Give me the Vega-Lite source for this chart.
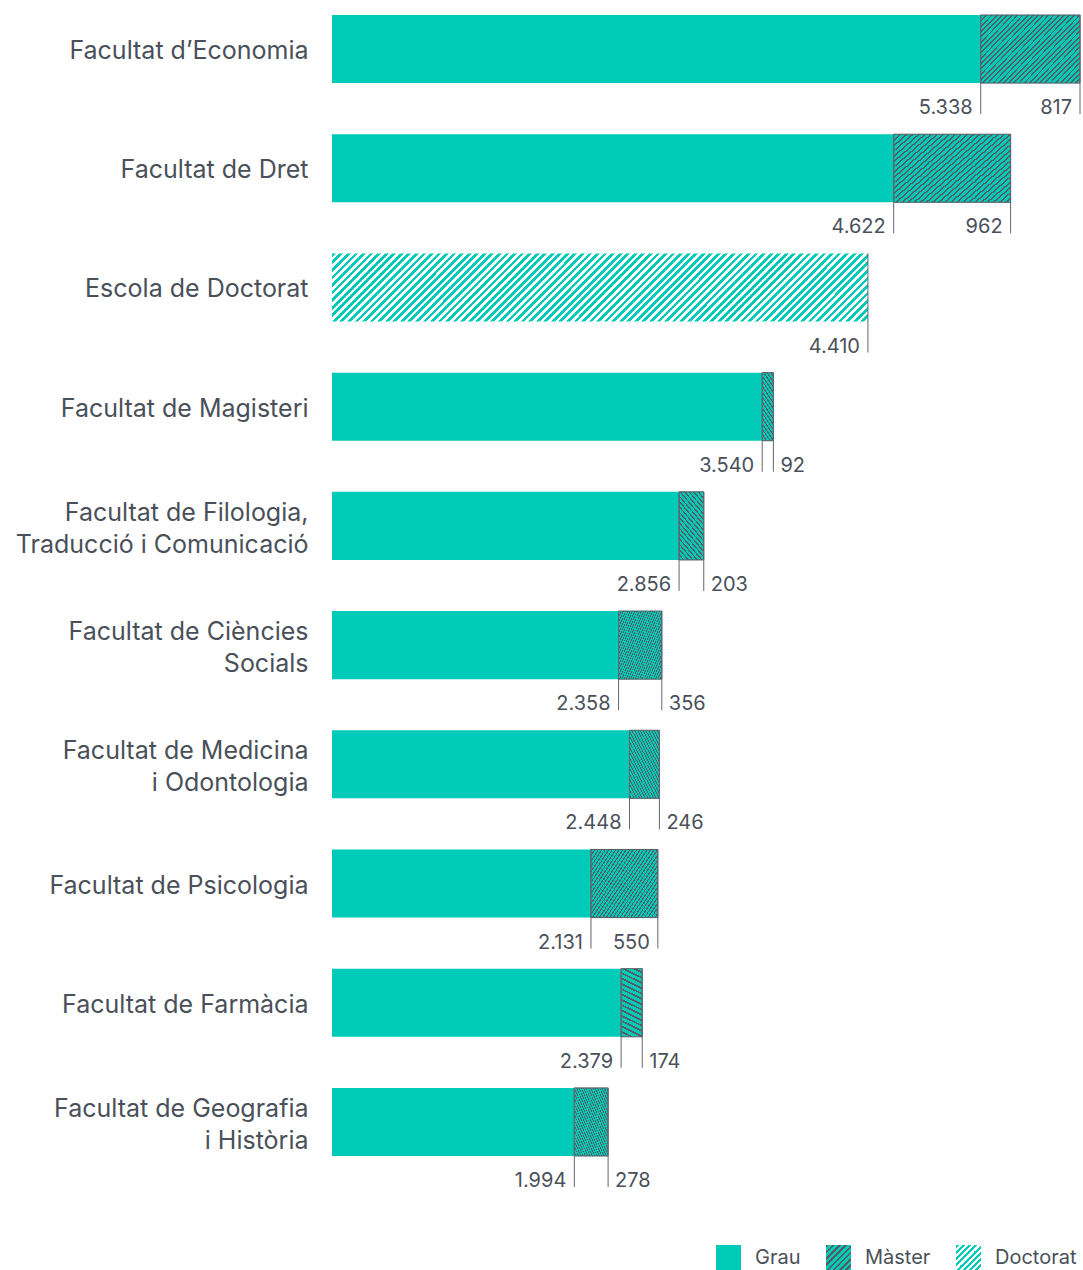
{
  "$schema": "https://vega.github.io/schema/vega-lite/v6.json",
  "width": 748,
  "height": 1171,
  "autosize": {"type": "none"},
  "padding": {"left": 332, "top": 0, "right": 3, "bottom": 99},
  "background": "#ffffff",
  "config": {
    "view": {"stroke": null},
    "font": "Inter",
    "locale": {"number": {"decimal": ",", "thousands": ".", "grouping": [3], "currency": ["", " €"]}}
  },
  "data": {
    "values": [
      {"faculty": "Facultat d’Economia", "type": "Grau", "value": 5338},
      {"faculty": "Facultat d’Economia", "type": "Màster", "value": 817},
      {"faculty": "Facultat de Dret", "type": "Grau", "value": 4622},
      {"faculty": "Facultat de Dret", "type": "Màster", "value": 962},
      {"faculty": "Escola de Doctorat", "type": "Doctorat", "value": 4410},
      {"faculty": "Facultat de Magisteri", "type": "Grau", "value": 3540},
      {"faculty": "Facultat de Magisteri", "type": "Màster", "value": 92},
      {"faculty": "Facultat de Filologia,|Traducció i Comunicació", "type": "Grau", "value": 2856},
      {"faculty": "Facultat de Filologia,|Traducció i Comunicació", "type": "Màster", "value": 203},
      {"faculty": "Facultat de Ciències|Socials", "type": "Grau", "value": 2358},
      {"faculty": "Facultat de Ciències|Socials", "type": "Màster", "value": 356},
      {"faculty": "Facultat de Medicina|i Odontologia", "type": "Grau", "value": 2448},
      {"faculty": "Facultat de Medicina|i Odontologia", "type": "Màster", "value": 246},
      {"faculty": "Facultat de Psicologia", "type": "Grau", "value": 2131},
      {"faculty": "Facultat de Psicologia", "type": "Màster", "value": 550},
      {"faculty": "Facultat de Farmàcia", "type": "Grau", "value": 2379},
      {"faculty": "Facultat de Farmàcia", "type": "Màster", "value": 174},
      {"faculty": "Facultat de Geografia|i Història", "type": "Grau", "value": 1994},
      {"faculty": "Facultat de Geografia|i Història", "type": "Màster", "value": 278}
    ]
  },
  "transform": [
    {"stack": "value", "groupby": ["faculty"], "sort": [{"field": "type", "order": "ascending"}], "as": ["x0", "x1"]}
  ],
  "encoding": {
    "y": {
      "field": "faculty", "type": "nominal", "sort": null,
      "scale": {"paddingInner": 0.4286, "paddingOuter": 0.1258},
      "axis": {
        "title": null, "domain": false, "ticks": false, "labelPadding": 24,
        "labelFont": "Inter", "labelFontSize": 25, "labelColor": "#4a5059",
        "labelLimit": 500, "labelLineHeight": 32,
        "labelOffset": {"condition": {"test": "indexof(datum.value, '|') >= 0", "value": -13}, "value": 2},
        "labelExpr": "split(datum.label, '|')"
      }
    }
  },
  "layer": [
    {
      "mark": {"type": "bar", "strokeWidth": 1},
      "encoding": {
        "x": {"field": "x0", "type": "quantitative", "scale": {"domain": [0, 6155], "nice": false, "zero": true}, "axis": null},
        "x2": {"field": "x1"},
        "stroke": {"condition": {"test": "datum.type === 'Màster'", "value": "#555b63"}, "value": null},
        "opacity": {
          "field": "type", "type": "nominal",
          "scale": {"type": "ordinal", "domain": ["Grau", "Màster", "Doctorat"], "range": [1, 1, 1]},
          "legend": {
            "title": null, "orient": "none", "legendX": 384, "legendY": 1245,
            "direction": "horizontal", "symbolType": "square", "symbolSize": 625,
            "symbolStrokeWidth": 0, "labelFont": "Inter", "labelFontSize": 20,
            "labelColor": "#4a5059", "labelOffset": 14, "columnPadding": 25,
            "encode": {"symbols": {"stroke": {"value": "transparent"}}}
          }
        },
        "fill": {
          "condition": [
            {"test": "datum.type === 'Màster'", "value": {"gradient": "linear", "x1": 0, "y1": 0, "x2": 1.154, "y2": 0.769, "stops": [
              {"offset": 0, "color": "#555b63"}, {"offset": 0.011, "color": "#555b63"}, {"offset": 0.011, "color": "#00cbb8"},
              {"offset": 0.03125, "color": "#00cbb8"}, {"offset": 0.03125, "color": "#555b63"}, {"offset": 0.04225, "color": "#555b63"}, {"offset": 0.04225, "color": "#00cbb8"},
              {"offset": 0.0625, "color": "#00cbb8"}, {"offset": 0.0625, "color": "#555b63"}, {"offset": 0.0735, "color": "#555b63"}, {"offset": 0.0735, "color": "#00cbb8"},
              {"offset": 0.09375, "color": "#00cbb8"}, {"offset": 0.09375, "color": "#555b63"}, {"offset": 0.10475, "color": "#555b63"}, {"offset": 0.10475, "color": "#00cbb8"},
              {"offset": 0.125, "color": "#00cbb8"}, {"offset": 0.125, "color": "#555b63"}, {"offset": 0.136, "color": "#555b63"}, {"offset": 0.136, "color": "#00cbb8"},
              {"offset": 0.15625, "color": "#00cbb8"}, {"offset": 0.15625, "color": "#555b63"}, {"offset": 0.16725, "color": "#555b63"}, {"offset": 0.16725, "color": "#00cbb8"},
              {"offset": 0.1875, "color": "#00cbb8"}, {"offset": 0.1875, "color": "#555b63"}, {"offset": 0.1985, "color": "#555b63"}, {"offset": 0.1985, "color": "#00cbb8"},
              {"offset": 0.21875, "color": "#00cbb8"}, {"offset": 0.21875, "color": "#555b63"}, {"offset": 0.22975, "color": "#555b63"}, {"offset": 0.22975, "color": "#00cbb8"},
              {"offset": 0.25, "color": "#00cbb8"}, {"offset": 0.25, "color": "#555b63"}, {"offset": 0.261, "color": "#555b63"}, {"offset": 0.261, "color": "#00cbb8"},
              {"offset": 0.28125, "color": "#00cbb8"}, {"offset": 0.28125, "color": "#555b63"}, {"offset": 0.29225, "color": "#555b63"}, {"offset": 0.29225, "color": "#00cbb8"},
              {"offset": 0.3125, "color": "#00cbb8"}, {"offset": 0.3125, "color": "#555b63"}, {"offset": 0.3235, "color": "#555b63"}, {"offset": 0.3235, "color": "#00cbb8"},
              {"offset": 0.34375, "color": "#00cbb8"}, {"offset": 0.34375, "color": "#555b63"}, {"offset": 0.35475, "color": "#555b63"}, {"offset": 0.35475, "color": "#00cbb8"},
              {"offset": 0.375, "color": "#00cbb8"}, {"offset": 0.375, "color": "#555b63"}, {"offset": 0.386, "color": "#555b63"}, {"offset": 0.386, "color": "#00cbb8"},
              {"offset": 0.40625, "color": "#00cbb8"}, {"offset": 0.40625, "color": "#555b63"}, {"offset": 0.41725, "color": "#555b63"}, {"offset": 0.41725, "color": "#00cbb8"},
              {"offset": 0.4375, "color": "#00cbb8"}, {"offset": 0.4375, "color": "#555b63"}, {"offset": 0.4485, "color": "#555b63"}, {"offset": 0.4485, "color": "#00cbb8"},
              {"offset": 0.46875, "color": "#00cbb8"}, {"offset": 0.46875, "color": "#555b63"}, {"offset": 0.47975, "color": "#555b63"}, {"offset": 0.47975, "color": "#00cbb8"},
              {"offset": 0.5, "color": "#00cbb8"}, {"offset": 0.5, "color": "#555b63"}, {"offset": 0.511, "color": "#555b63"}, {"offset": 0.511, "color": "#00cbb8"},
              {"offset": 0.53125, "color": "#00cbb8"}, {"offset": 0.53125, "color": "#555b63"}, {"offset": 0.54225, "color": "#555b63"}, {"offset": 0.54225, "color": "#00cbb8"},
              {"offset": 0.5625, "color": "#00cbb8"}, {"offset": 0.5625, "color": "#555b63"}, {"offset": 0.5735, "color": "#555b63"}, {"offset": 0.5735, "color": "#00cbb8"},
              {"offset": 0.59375, "color": "#00cbb8"}, {"offset": 0.59375, "color": "#555b63"}, {"offset": 0.60475, "color": "#555b63"}, {"offset": 0.60475, "color": "#00cbb8"},
              {"offset": 0.625, "color": "#00cbb8"}, {"offset": 0.625, "color": "#555b63"}, {"offset": 0.636, "color": "#555b63"}, {"offset": 0.636, "color": "#00cbb8"},
              {"offset": 0.65625, "color": "#00cbb8"}, {"offset": 0.65625, "color": "#555b63"}, {"offset": 0.66725, "color": "#555b63"}, {"offset": 0.66725, "color": "#00cbb8"},
              {"offset": 0.6875, "color": "#00cbb8"}, {"offset": 0.6875, "color": "#555b63"}, {"offset": 0.6985, "color": "#555b63"}, {"offset": 0.6985, "color": "#00cbb8"},
              {"offset": 0.71875, "color": "#00cbb8"}, {"offset": 0.71875, "color": "#555b63"}, {"offset": 0.72975, "color": "#555b63"}, {"offset": 0.72975, "color": "#00cbb8"},
              {"offset": 0.75, "color": "#00cbb8"}, {"offset": 0.75, "color": "#555b63"}, {"offset": 0.761, "color": "#555b63"}, {"offset": 0.761, "color": "#00cbb8"},
              {"offset": 0.78125, "color": "#00cbb8"}, {"offset": 0.78125, "color": "#555b63"}, {"offset": 0.79225, "color": "#555b63"}, {"offset": 0.79225, "color": "#00cbb8"},
              {"offset": 0.8125, "color": "#00cbb8"}, {"offset": 0.8125, "color": "#555b63"}, {"offset": 0.8235, "color": "#555b63"}, {"offset": 0.8235, "color": "#00cbb8"},
              {"offset": 0.84375, "color": "#00cbb8"}, {"offset": 0.84375, "color": "#555b63"}, {"offset": 0.85475, "color": "#555b63"}, {"offset": 0.85475, "color": "#00cbb8"},
              {"offset": 0.875, "color": "#00cbb8"}, {"offset": 0.875, "color": "#555b63"}, {"offset": 0.886, "color": "#555b63"}, {"offset": 0.886, "color": "#00cbb8"},
              {"offset": 0.90625, "color": "#00cbb8"}, {"offset": 0.90625, "color": "#555b63"}, {"offset": 0.91725, "color": "#555b63"}, {"offset": 0.91725, "color": "#00cbb8"},
              {"offset": 0.9375, "color": "#00cbb8"}, {"offset": 0.9375, "color": "#555b63"}, {"offset": 0.9485, "color": "#555b63"}, {"offset": 0.9485, "color": "#00cbb8"},
              {"offset": 0.96875, "color": "#00cbb8"}, {"offset": 0.96875, "color": "#555b63"}, {"offset": 0.97975, "color": "#555b63"}, {"offset": 0.97975, "color": "#00cbb8"},
              {"offset": 1, "color": "#00cbb8"}
            ]}},
            {"test": "datum.type === 'Doctorat'", "value": {"gradient": "linear", "x1": 0, "y1": 0, "x2": 1.109, "y2": 0.1408, "stops": [
              {"offset": 0, "color": "#00cbb8"},
              {"offset": 0.00625, "color": "#00cbb8"}, {"offset": 0.00625, "color": "#fff"}, {"offset": 0.0125, "color": "#fff"}, {"offset": 0.0125, "color": "#00cbb8"},
              {"offset": 0.01875, "color": "#00cbb8"}, {"offset": 0.01875, "color": "#fff"}, {"offset": 0.025, "color": "#fff"}, {"offset": 0.025, "color": "#00cbb8"},
              {"offset": 0.03125, "color": "#00cbb8"}, {"offset": 0.03125, "color": "#fff"}, {"offset": 0.0375, "color": "#fff"}, {"offset": 0.0375, "color": "#00cbb8"},
              {"offset": 0.04375, "color": "#00cbb8"}, {"offset": 0.04375, "color": "#fff"}, {"offset": 0.05, "color": "#fff"}, {"offset": 0.05, "color": "#00cbb8"},
              {"offset": 0.05625, "color": "#00cbb8"}, {"offset": 0.05625, "color": "#fff"}, {"offset": 0.0625, "color": "#fff"}, {"offset": 0.0625, "color": "#00cbb8"},
              {"offset": 0.06875, "color": "#00cbb8"}, {"offset": 0.06875, "color": "#fff"}, {"offset": 0.075, "color": "#fff"}, {"offset": 0.075, "color": "#00cbb8"},
              {"offset": 0.08125, "color": "#00cbb8"}, {"offset": 0.08125, "color": "#fff"}, {"offset": 0.0875, "color": "#fff"}, {"offset": 0.0875, "color": "#00cbb8"},
              {"offset": 0.09375, "color": "#00cbb8"}, {"offset": 0.09375, "color": "#fff"}, {"offset": 0.1, "color": "#fff"}, {"offset": 0.1, "color": "#00cbb8"},
              {"offset": 0.10625, "color": "#00cbb8"}, {"offset": 0.10625, "color": "#fff"}, {"offset": 0.1125, "color": "#fff"}, {"offset": 0.1125, "color": "#00cbb8"},
              {"offset": 0.11875, "color": "#00cbb8"}, {"offset": 0.11875, "color": "#fff"}, {"offset": 0.125, "color": "#fff"}, {"offset": 0.125, "color": "#00cbb8"},
              {"offset": 0.13125, "color": "#00cbb8"}, {"offset": 0.13125, "color": "#fff"}, {"offset": 0.1375, "color": "#fff"}, {"offset": 0.1375, "color": "#00cbb8"},
              {"offset": 0.14375, "color": "#00cbb8"}, {"offset": 0.14375, "color": "#fff"}, {"offset": 0.15, "color": "#fff"}, {"offset": 0.15, "color": "#00cbb8"},
              {"offset": 0.15625, "color": "#00cbb8"}, {"offset": 0.15625, "color": "#fff"}, {"offset": 0.1625, "color": "#fff"}, {"offset": 0.1625, "color": "#00cbb8"},
              {"offset": 0.16875, "color": "#00cbb8"}, {"offset": 0.16875, "color": "#fff"}, {"offset": 0.175, "color": "#fff"}, {"offset": 0.175, "color": "#00cbb8"},
              {"offset": 0.18125, "color": "#00cbb8"}, {"offset": 0.18125, "color": "#fff"}, {"offset": 0.1875, "color": "#fff"}, {"offset": 0.1875, "color": "#00cbb8"},
              {"offset": 0.19375, "color": "#00cbb8"}, {"offset": 0.19375, "color": "#fff"}, {"offset": 0.2, "color": "#fff"}, {"offset": 0.2, "color": "#00cbb8"},
              {"offset": 0.20625, "color": "#00cbb8"}, {"offset": 0.20625, "color": "#fff"}, {"offset": 0.2125, "color": "#fff"}, {"offset": 0.2125, "color": "#00cbb8"},
              {"offset": 0.21875, "color": "#00cbb8"}, {"offset": 0.21875, "color": "#fff"}, {"offset": 0.225, "color": "#fff"}, {"offset": 0.225, "color": "#00cbb8"},
              {"offset": 0.23125, "color": "#00cbb8"}, {"offset": 0.23125, "color": "#fff"}, {"offset": 0.2375, "color": "#fff"}, {"offset": 0.2375, "color": "#00cbb8"},
              {"offset": 0.24375, "color": "#00cbb8"}, {"offset": 0.24375, "color": "#fff"}, {"offset": 0.25, "color": "#fff"}, {"offset": 0.25, "color": "#00cbb8"},
              {"offset": 0.25625, "color": "#00cbb8"}, {"offset": 0.25625, "color": "#fff"}, {"offset": 0.2625, "color": "#fff"}, {"offset": 0.2625, "color": "#00cbb8"},
              {"offset": 0.26875, "color": "#00cbb8"}, {"offset": 0.26875, "color": "#fff"}, {"offset": 0.275, "color": "#fff"}, {"offset": 0.275, "color": "#00cbb8"},
              {"offset": 0.28125, "color": "#00cbb8"}, {"offset": 0.28125, "color": "#fff"}, {"offset": 0.2875, "color": "#fff"}, {"offset": 0.2875, "color": "#00cbb8"},
              {"offset": 0.29375, "color": "#00cbb8"}, {"offset": 0.29375, "color": "#fff"}, {"offset": 0.3, "color": "#fff"}, {"offset": 0.3, "color": "#00cbb8"},
              {"offset": 0.30625, "color": "#00cbb8"}, {"offset": 0.30625, "color": "#fff"}, {"offset": 0.3125, "color": "#fff"}, {"offset": 0.3125, "color": "#00cbb8"},
              {"offset": 0.31875, "color": "#00cbb8"}, {"offset": 0.31875, "color": "#fff"}, {"offset": 0.325, "color": "#fff"}, {"offset": 0.325, "color": "#00cbb8"},
              {"offset": 0.33125, "color": "#00cbb8"}, {"offset": 0.33125, "color": "#fff"}, {"offset": 0.3375, "color": "#fff"}, {"offset": 0.3375, "color": "#00cbb8"},
              {"offset": 0.34375, "color": "#00cbb8"}, {"offset": 0.34375, "color": "#fff"}, {"offset": 0.35, "color": "#fff"}, {"offset": 0.35, "color": "#00cbb8"},
              {"offset": 0.35625, "color": "#00cbb8"}, {"offset": 0.35625, "color": "#fff"}, {"offset": 0.3625, "color": "#fff"}, {"offset": 0.3625, "color": "#00cbb8"},
              {"offset": 0.36875, "color": "#00cbb8"}, {"offset": 0.36875, "color": "#fff"}, {"offset": 0.375, "color": "#fff"}, {"offset": 0.375, "color": "#00cbb8"},
              {"offset": 0.38125, "color": "#00cbb8"}, {"offset": 0.38125, "color": "#fff"}, {"offset": 0.3875, "color": "#fff"}, {"offset": 0.3875, "color": "#00cbb8"},
              {"offset": 0.39375, "color": "#00cbb8"}, {"offset": 0.39375, "color": "#fff"}, {"offset": 0.4, "color": "#fff"}, {"offset": 0.4, "color": "#00cbb8"},
              {"offset": 0.40625, "color": "#00cbb8"}, {"offset": 0.40625, "color": "#fff"}, {"offset": 0.4125, "color": "#fff"}, {"offset": 0.4125, "color": "#00cbb8"},
              {"offset": 0.41875, "color": "#00cbb8"}, {"offset": 0.41875, "color": "#fff"}, {"offset": 0.425, "color": "#fff"}, {"offset": 0.425, "color": "#00cbb8"},
              {"offset": 0.43125, "color": "#00cbb8"}, {"offset": 0.43125, "color": "#fff"}, {"offset": 0.4375, "color": "#fff"}, {"offset": 0.4375, "color": "#00cbb8"},
              {"offset": 0.44375, "color": "#00cbb8"}, {"offset": 0.44375, "color": "#fff"}, {"offset": 0.45, "color": "#fff"}, {"offset": 0.45, "color": "#00cbb8"},
              {"offset": 0.45625, "color": "#00cbb8"}, {"offset": 0.45625, "color": "#fff"}, {"offset": 0.4625, "color": "#fff"}, {"offset": 0.4625, "color": "#00cbb8"},
              {"offset": 0.46875, "color": "#00cbb8"}, {"offset": 0.46875, "color": "#fff"}, {"offset": 0.475, "color": "#fff"}, {"offset": 0.475, "color": "#00cbb8"},
              {"offset": 0.48125, "color": "#00cbb8"}, {"offset": 0.48125, "color": "#fff"}, {"offset": 0.4875, "color": "#fff"}, {"offset": 0.4875, "color": "#00cbb8"},
              {"offset": 0.49375, "color": "#00cbb8"}, {"offset": 0.49375, "color": "#fff"}, {"offset": 0.5, "color": "#fff"}, {"offset": 0.5, "color": "#00cbb8"},
              {"offset": 0.50625, "color": "#00cbb8"}, {"offset": 0.50625, "color": "#fff"}, {"offset": 0.5125, "color": "#fff"}, {"offset": 0.5125, "color": "#00cbb8"},
              {"offset": 0.51875, "color": "#00cbb8"}, {"offset": 0.51875, "color": "#fff"}, {"offset": 0.525, "color": "#fff"}, {"offset": 0.525, "color": "#00cbb8"},
              {"offset": 0.53125, "color": "#00cbb8"}, {"offset": 0.53125, "color": "#fff"}, {"offset": 0.5375, "color": "#fff"}, {"offset": 0.5375, "color": "#00cbb8"},
              {"offset": 0.54375, "color": "#00cbb8"}, {"offset": 0.54375, "color": "#fff"}, {"offset": 0.55, "color": "#fff"}, {"offset": 0.55, "color": "#00cbb8"},
              {"offset": 0.55625, "color": "#00cbb8"}, {"offset": 0.55625, "color": "#fff"}, {"offset": 0.5625, "color": "#fff"}, {"offset": 0.5625, "color": "#00cbb8"},
              {"offset": 0.56875, "color": "#00cbb8"}, {"offset": 0.56875, "color": "#fff"}, {"offset": 0.575, "color": "#fff"}, {"offset": 0.575, "color": "#00cbb8"},
              {"offset": 0.58125, "color": "#00cbb8"}, {"offset": 0.58125, "color": "#fff"}, {"offset": 0.5875, "color": "#fff"}, {"offset": 0.5875, "color": "#00cbb8"},
              {"offset": 0.59375, "color": "#00cbb8"}, {"offset": 0.59375, "color": "#fff"}, {"offset": 0.6, "color": "#fff"}, {"offset": 0.6, "color": "#00cbb8"},
              {"offset": 0.60625, "color": "#00cbb8"}, {"offset": 0.60625, "color": "#fff"}, {"offset": 0.6125, "color": "#fff"}, {"offset": 0.6125, "color": "#00cbb8"},
              {"offset": 0.61875, "color": "#00cbb8"}, {"offset": 0.61875, "color": "#fff"}, {"offset": 0.625, "color": "#fff"}, {"offset": 0.625, "color": "#00cbb8"},
              {"offset": 0.63125, "color": "#00cbb8"}, {"offset": 0.63125, "color": "#fff"}, {"offset": 0.6375, "color": "#fff"}, {"offset": 0.6375, "color": "#00cbb8"},
              {"offset": 0.64375, "color": "#00cbb8"}, {"offset": 0.64375, "color": "#fff"}, {"offset": 0.65, "color": "#fff"}, {"offset": 0.65, "color": "#00cbb8"},
              {"offset": 0.65625, "color": "#00cbb8"}, {"offset": 0.65625, "color": "#fff"}, {"offset": 0.6625, "color": "#fff"}, {"offset": 0.6625, "color": "#00cbb8"},
              {"offset": 0.66875, "color": "#00cbb8"}, {"offset": 0.66875, "color": "#fff"}, {"offset": 0.675, "color": "#fff"}, {"offset": 0.675, "color": "#00cbb8"},
              {"offset": 0.68125, "color": "#00cbb8"}, {"offset": 0.68125, "color": "#fff"}, {"offset": 0.6875, "color": "#fff"}, {"offset": 0.6875, "color": "#00cbb8"},
              {"offset": 0.69375, "color": "#00cbb8"}, {"offset": 0.69375, "color": "#fff"}, {"offset": 0.7, "color": "#fff"}, {"offset": 0.7, "color": "#00cbb8"},
              {"offset": 0.70625, "color": "#00cbb8"}, {"offset": 0.70625, "color": "#fff"}, {"offset": 0.7125, "color": "#fff"}, {"offset": 0.7125, "color": "#00cbb8"},
              {"offset": 0.71875, "color": "#00cbb8"}, {"offset": 0.71875, "color": "#fff"}, {"offset": 0.725, "color": "#fff"}, {"offset": 0.725, "color": "#00cbb8"},
              {"offset": 0.73125, "color": "#00cbb8"}, {"offset": 0.73125, "color": "#fff"}, {"offset": 0.7375, "color": "#fff"}, {"offset": 0.7375, "color": "#00cbb8"},
              {"offset": 0.74375, "color": "#00cbb8"}, {"offset": 0.74375, "color": "#fff"}, {"offset": 0.75, "color": "#fff"}, {"offset": 0.75, "color": "#00cbb8"},
              {"offset": 0.75625, "color": "#00cbb8"}, {"offset": 0.75625, "color": "#fff"}, {"offset": 0.7625, "color": "#fff"}, {"offset": 0.7625, "color": "#00cbb8"},
              {"offset": 0.76875, "color": "#00cbb8"}, {"offset": 0.76875, "color": "#fff"}, {"offset": 0.775, "color": "#fff"}, {"offset": 0.775, "color": "#00cbb8"},
              {"offset": 0.78125, "color": "#00cbb8"}, {"offset": 0.78125, "color": "#fff"}, {"offset": 0.7875, "color": "#fff"}, {"offset": 0.7875, "color": "#00cbb8"},
              {"offset": 0.79375, "color": "#00cbb8"}, {"offset": 0.79375, "color": "#fff"}, {"offset": 0.8, "color": "#fff"}, {"offset": 0.8, "color": "#00cbb8"},
              {"offset": 0.80625, "color": "#00cbb8"}, {"offset": 0.80625, "color": "#fff"}, {"offset": 0.8125, "color": "#fff"}, {"offset": 0.8125, "color": "#00cbb8"},
              {"offset": 0.81875, "color": "#00cbb8"}, {"offset": 0.81875, "color": "#fff"}, {"offset": 0.825, "color": "#fff"}, {"offset": 0.825, "color": "#00cbb8"},
              {"offset": 0.83125, "color": "#00cbb8"}, {"offset": 0.83125, "color": "#fff"}, {"offset": 0.8375, "color": "#fff"}, {"offset": 0.8375, "color": "#00cbb8"},
              {"offset": 0.84375, "color": "#00cbb8"}, {"offset": 0.84375, "color": "#fff"}, {"offset": 0.85, "color": "#fff"}, {"offset": 0.85, "color": "#00cbb8"},
              {"offset": 0.85625, "color": "#00cbb8"}, {"offset": 0.85625, "color": "#fff"}, {"offset": 0.8625, "color": "#fff"}, {"offset": 0.8625, "color": "#00cbb8"},
              {"offset": 0.86875, "color": "#00cbb8"}, {"offset": 0.86875, "color": "#fff"}, {"offset": 0.875, "color": "#fff"}, {"offset": 0.875, "color": "#00cbb8"},
              {"offset": 0.88125, "color": "#00cbb8"}, {"offset": 0.88125, "color": "#fff"}, {"offset": 0.8875, "color": "#fff"}, {"offset": 0.8875, "color": "#00cbb8"},
              {"offset": 0.89375, "color": "#00cbb8"}, {"offset": 0.89375, "color": "#fff"}, {"offset": 0.9, "color": "#fff"}, {"offset": 0.9, "color": "#00cbb8"},
              {"offset": 0.90625, "color": "#00cbb8"}, {"offset": 0.90625, "color": "#fff"}, {"offset": 0.9125, "color": "#fff"}, {"offset": 0.9125, "color": "#00cbb8"},
              {"offset": 0.91875, "color": "#00cbb8"}, {"offset": 0.91875, "color": "#fff"}, {"offset": 0.925, "color": "#fff"}, {"offset": 0.925, "color": "#00cbb8"},
              {"offset": 0.93125, "color": "#00cbb8"}, {"offset": 0.93125, "color": "#fff"}, {"offset": 0.9375, "color": "#fff"}, {"offset": 0.9375, "color": "#00cbb8"},
              {"offset": 0.94375, "color": "#00cbb8"}, {"offset": 0.94375, "color": "#fff"}, {"offset": 0.95, "color": "#fff"}, {"offset": 0.95, "color": "#00cbb8"},
              {"offset": 0.95625, "color": "#00cbb8"}, {"offset": 0.95625, "color": "#fff"}, {"offset": 0.9625, "color": "#fff"}, {"offset": 0.9625, "color": "#00cbb8"},
              {"offset": 0.96875, "color": "#00cbb8"}, {"offset": 0.96875, "color": "#fff"}, {"offset": 0.975, "color": "#fff"}, {"offset": 0.975, "color": "#00cbb8"},
              {"offset": 0.98125, "color": "#00cbb8"}, {"offset": 0.98125, "color": "#fff"}, {"offset": 0.9875, "color": "#fff"}, {"offset": 0.9875, "color": "#00cbb8"},
              {"offset": 0.99375, "color": "#00cbb8"}, {"offset": 0.99375, "color": "#fff"}, {"offset": 1, "color": "#fff"}
            ]}}
          ],
          "value": {"expr": "datum.value === 'Màster' ? {gradient: 'linear', x1: 0, y1: 0, x2: 1, y2: 1, stops: [{offset: 0, color: '#555b63'}, {offset: 0.05, color: '#555b63'}, {offset: 0.05, color: '#00cbb8'}, {offset: 0.125, color: '#00cbb8'}, {offset: 0.125, color: '#555b63'}, {offset: 0.175, color: '#555b63'}, {offset: 0.175, color: '#00cbb8'}, {offset: 0.25, color: '#00cbb8'}, {offset: 0.25, color: '#555b63'}, {offset: 0.3, color: '#555b63'}, {offset: 0.3, color: '#00cbb8'}, {offset: 0.375, color: '#00cbb8'}, {offset: 0.375, color: '#555b63'}, {offset: 0.425, color: '#555b63'}, {offset: 0.425, color: '#00cbb8'}, {offset: 0.5, color: '#00cbb8'}, {offset: 0.5, color: '#555b63'}, {offset: 0.55, color: '#555b63'}, {offset: 0.55, color: '#00cbb8'}, {offset: 0.625, color: '#00cbb8'}, {offset: 0.625, color: '#555b63'}, {offset: 0.675, color: '#555b63'}, {offset: 0.675, color: '#00cbb8'}, {offset: 0.75, color: '#00cbb8'}, {offset: 0.75, color: '#555b63'}, {offset: 0.8, color: '#555b63'}, {offset: 0.8, color: '#00cbb8'}, {offset: 0.875, color: '#00cbb8'}, {offset: 0.875, color: '#555b63'}, {offset: 0.925, color: '#555b63'}, {offset: 0.925, color: '#00cbb8'}, {offset: 1, color: '#00cbb8'}]} : datum.value === 'Doctorat' ? {gradient: 'linear', x1: 0, y1: 0, x2: 1, y2: 1, stops: [{offset: 0, color: '#00cbb8'}, {offset: 0.0625, color: '#00cbb8'}, {offset: 0.0625, color: '#fff'}, {offset: 0.125, color: '#fff'}, {offset: 0.125, color: '#00cbb8'}, {offset: 0.1875, color: '#00cbb8'}, {offset: 0.1875, color: '#fff'}, {offset: 0.25, color: '#fff'}, {offset: 0.25, color: '#00cbb8'}, {offset: 0.3125, color: '#00cbb8'}, {offset: 0.3125, color: '#fff'}, {offset: 0.375, color: '#fff'}, {offset: 0.375, color: '#00cbb8'}, {offset: 0.4375, color: '#00cbb8'}, {offset: 0.4375, color: '#fff'}, {offset: 0.5, color: '#fff'}, {offset: 0.5, color: '#00cbb8'}, {offset: 0.5625, color: '#00cbb8'}, {offset: 0.5625, color: '#fff'}, {offset: 0.625, color: '#fff'}, {offset: 0.625, color: '#00cbb8'}, {offset: 0.6875, color: '#00cbb8'}, {offset: 0.6875, color: '#fff'}, {offset: 0.75, color: '#fff'}, {offset: 0.75, color: '#00cbb8'}, {offset: 0.8125, color: '#00cbb8'}, {offset: 0.8125, color: '#fff'}, {offset: 0.875, color: '#fff'}, {offset: 0.875, color: '#00cbb8'}, {offset: 0.9375, color: '#00cbb8'}, {offset: 0.9375, color: '#fff'}, {offset: 1, color: '#fff'}]} : '#00cbb8'"}
        }
      }
    },
    {
      "mark": {"type": "rule", "color": "#62676e", "strokeWidth": 1, "y2Offset": 31},
      "encoding": {
        "x": {"field": "x1", "type": "quantitative", "scale": {"domain": [0, 6155], "nice": false, "zero": true}, "axis": null},
        "y": {"field": "faculty", "type": "nominal", "sort": null, "bandPosition": 0},
        "y2": {"field": "faculty", "bandPosition": 1}
      }
    },
    {
      "transform": [{"filter": "datum.type !== 'Màster' || datum.value > 400"}],
      "mark": {"type": "text", "align": "right", "baseline": "alphabetic", "dx": -8, "dy": 31, "font": "Inter", "fontSize": 20, "color": "#4a5059"},
      "encoding": {
        "x": {"field": "x1", "type": "quantitative", "scale": {"domain": [0, 6155], "nice": false, "zero": true}, "axis": null},
        "y": {"field": "faculty", "type": "nominal", "sort": null, "bandPosition": 1},
        "text": {"field": "value", "type": "quantitative", "format": ",d"}
      }
    },
    {
      "transform": [{"filter": "datum.type === 'Màster' && datum.value <= 400"}],
      "mark": {"type": "text", "align": "left", "baseline": "alphabetic", "dx": 7, "dy": 31, "font": "Inter", "fontSize": 20, "color": "#4a5059"},
      "encoding": {
        "x": {"field": "x1", "type": "quantitative", "scale": {"domain": [0, 6155], "nice": false, "zero": true}, "axis": null},
        "y": {"field": "faculty", "type": "nominal", "sort": null, "bandPosition": 1},
        "text": {"field": "value", "type": "quantitative", "format": ",d"}
      }
    }
  ]
}
